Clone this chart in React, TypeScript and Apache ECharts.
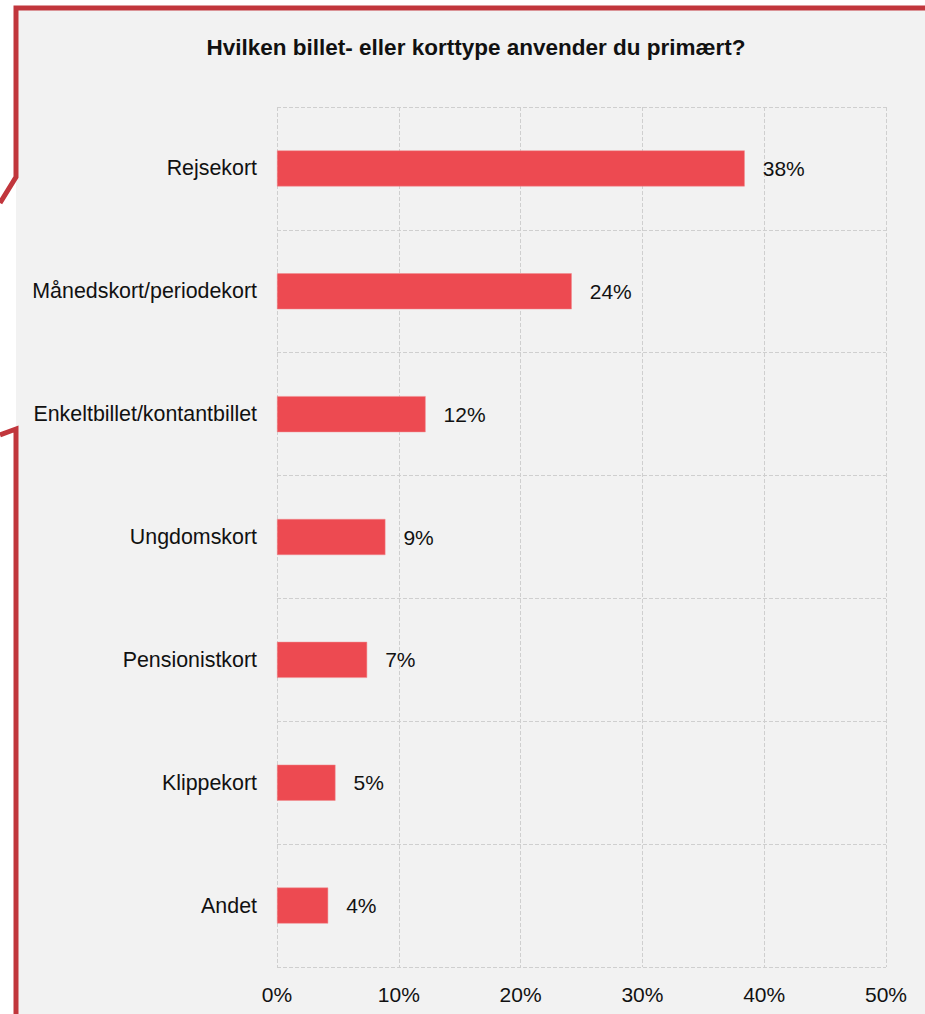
import React, { useEffect, useRef } from "react";
import * as echarts from "echarts";

const titleText = "Hvilken billet- eller korttype anvender du primært?";
const categories = [
  "Rejsekort",
  "Månedskort/periodekort",
  "Enkeltbillet/kontantbillet",
  "Ungdomskort",
  "Pensionistkort",
  "Klippekort",
  "Andet",
];
const shares = [38.4, 24.2, 12.2, 8.9, 7.4, 4.8, 4.2];
const axisMin = 0;
const axisMax = 50;
const axisStep = 10;

const FONT = "'Liberation Sans', Arial, Helvetica, sans-serif";

export default function App() {
  const ref = useRef<HTMLDivElement>(null);
  useEffect(() => {
    if (!ref.current) return;
    const chart = echarts.init(ref.current, undefined, { renderer: "svg" });
    chart.setOption({
      animation: false,
      backgroundColor: "#ffffff",
      textStyle: { fontFamily: FONT },
      graphic: [
        {
          type: "rect",
          z: -10,
          silent: true,
          shape: { x: 16, y: 8, width: 909, height: 1006 },
          style: { fill: "#f2f2f2" },
        },
        {
          type: "polyline",
          z: 100,
          silent: true,
          shape: { points: [[925, 8], [16, 8], [16, 177], [0, 203]] },
          style: { stroke: "#c1363c", lineWidth: 5, fill: null, lineJoin: "miter" },
        },
        {
          type: "polyline",
          z: 100,
          silent: true,
          shape: { points: [[0, 435], [16, 429], [16, 1014]] },
          style: { stroke: "#c1363c", lineWidth: 5, fill: null, lineJoin: "miter" },
        },
      ],
      title: {
        text: titleText,
        left: 476,
        textAlign: "center",
        top: 31,
        textStyle: { fontFamily: FONT, fontSize: 22.5, fontWeight: "bold", color: "#111111" },
      },
      grid: { left: 277, right: 39, top: 107, bottom: 47, containLabel: false },
      xAxis: {
        type: "value",
        min: axisMin,
        max: axisMax,
        interval: axisStep,
        axisLine: { show: false },
        axisTick: { show: false },
        axisLabel: {
          formatter: "{value}%",
          fontFamily: FONT,
          fontSize: 21,
          color: "#111111",
          margin: 17,
        },
        splitLine: { show: true, lineStyle: { color: "#cfcfcf", type: "dashed", width: 1 } },
      },
      yAxis: {
        type: "category",
        data: categories,
        inverse: true,
        axisLine: { show: false },
        axisTick: { show: false },
        axisLabel: { fontFamily: FONT, fontSize: 21.4, color: "#111111", margin: 20 },
        splitLine: { show: true, lineStyle: { color: "#cfcfcf", type: "dashed", width: 1 } },
      },
      series: [
        {
          type: "bar",
          data: shares,
          barWidth: 36,
          itemStyle: { color: "#ed4a51", borderColor: "#f08a8e", borderWidth: 0.5 },
          label: {
            show: true,
            position: "right",
            distance: 18,
            fontFamily: FONT,
            fontSize: 21,
            color: "#111111",
            formatter: (p: any) => Math.round(p.value) + "%",
          },
        },
      ],
    });
    // shift title slightly left to match the reference centre
    chart.setOption({ title: { left: 471 } });
    return () => chart.dispose();
  }, []);
  return (
    <div
      ref={ref}
      style={{ position: "absolute", left: 0, top: 0, width: 925, height: 1014 }}
    />
  );
}
